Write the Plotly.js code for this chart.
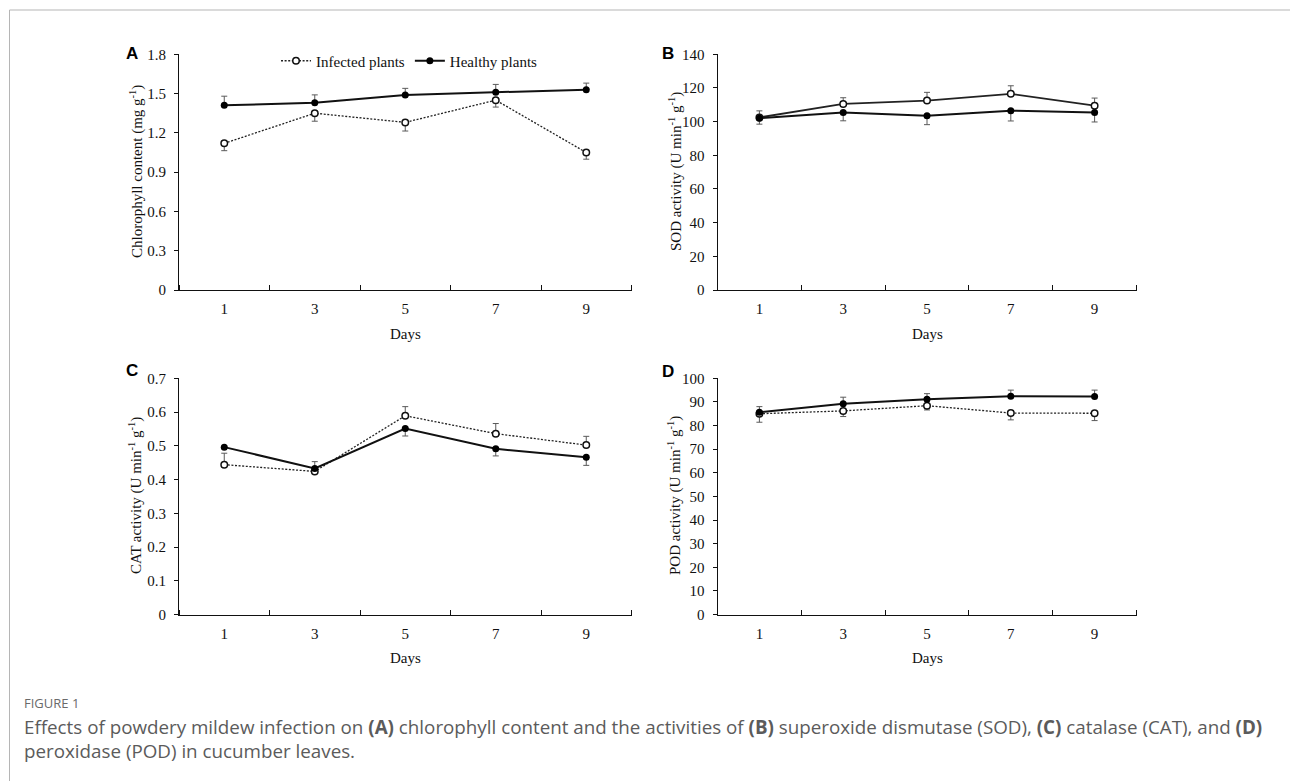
<!DOCTYPE html>
<html>
<head>
<meta charset="utf-8">
<script src="https://cdn.plot.ly/plotly-3.0.1.min.js"></script>
<style>
  html, body { margin: 0; padding: 0; background: #ffffff; }
  #chart { width: 1290px; height: 781px; }
</style>
</head>
<body>
<div id="chart"></div>
<script>
// ---------- data ----------
const days = [1, 3, 5, 7, 9];

// Panel A: chlorophyll content (mg g-1)
const chlInfected = [1.12, 1.35, 1.28, 1.45, 1.05];
const chlInfectedErrMinus = [0.056, 0.061, 0.066, 0.053, 0.051];
const chlHealthy = [1.41, 1.43, 1.49, 1.51, 1.53];
const chlHealthyErrPlus = [0.07, 0.06, 0.05, 0.06, 0.05];

// Panel B: SOD activity
const sodInfected = [102.5, 110.5, 112.5, 116.5, 109.5];
const sodInfectedErrPlus = [3.9, 3.7, 4.9, 4.8, 4.5];
const sodHealthy = [102, 105.5, 103.5, 106.5, 105.5];
const sodHealthyErrMinus = [3.5, 5.0, 5.3, 6.1, 5.7];

// Panel C: CAT activity
const catInfected = [0.444, 0.424, 0.589, 0.536, 0.502];
const catInfectedErrPlus = [0.034, 0, 0.027, 0.030, 0.026];
const catHealthy = [0.496, 0.433, 0.551, 0.491, 0.466];
const catHealthyErrPlus = [0, 0.020, 0, 0, 0];
const catHealthyErrMinus = [0, 0, 0.022, 0.021, 0.024];

// Panel D: POD activity
const podInfected = [85.0, 86.2, 88.4, 85.3, 85.2];
const podInfectedErrMinus = [3.6, 2.4, 1.8, 2.9, 3.1];
const podHealthy = [85.6, 89.2, 91.1, 92.4, 92.3];
const podHealthyErrPlus = [2.4, 2.8, 2.4, 2.6, 2.7];

// tick labels
const ticksA = [0, 0.3, 0.6, 0.9, 1.2, 1.5, 1.8];
const ticksB = [0, 20, 40, 60, 80, 100, 120, 140];
const ticksC = [0, 0.1, 0.2, 0.3, 0.4, 0.5, 0.6, 0.7];
const ticksD = [0, 10, 20, 30, 40, 50, 60, 70, 80, 90, 100];

const seriesNames = ['Infected plants', 'Healthy plants'];

// ---------- styling ----------
const W = 1290, H = 781;
const px = v => v / W;
const py = v => 1 - v / H;
const serif = 'Liberation Serif';
const ebColor = '#5a5a5a';
const dotDash = '2px,1.6px';

function err(plus, minus) {
  return {
    type: 'data', symmetric: false,
    array: plus || days.map(() => 0),
    arrayminus: minus || days.map(() => 0),
    color: ebColor, thickness: 1, width: 3
  };
}
function infectedTrace(y, e, xa, ya, dash, show) {
  return {
    x: days, y: y, xaxis: xa, yaxis: ya, type: 'scatter', mode: 'lines+markers',
    name: seriesNames[0], showlegend: show, legendrank: 1,
    line: { color: '#222', width: dash === 'solid' ? 1.8 : 1.3, dash: dash },
    marker: { symbol: 'circle', size: 6.5, color: '#ffffff', line: { color: '#111', width: 1.5 } },
    error_y: e
  };
}
function healthyTrace(y, e, xa, ya, show) {
  return {
    x: days, y: y, xaxis: xa, yaxis: ya, type: 'scatter', mode: 'lines+markers',
    name: seriesNames[1], showlegend: show, legendrank: 2,
    line: { color: '#111', width: 2 },
    marker: { symbol: 'circle', size: 7, color: '#000', line: { color: '#000', width: 0 } },
    error_y: e
  };
}

const data = [
  infectedTrace(chlInfected, err(null, chlInfectedErrMinus), 'x', 'y', dotDash, true),
  healthyTrace(chlHealthy, err(chlHealthyErrPlus, null), 'x', 'y', true),
  infectedTrace(sodInfected, err(sodInfectedErrPlus, null), 'x2', 'y2', 'solid', false),
  healthyTrace(sodHealthy, err(null, sodHealthyErrMinus), 'x2', 'y2', false),
  infectedTrace(catInfected, err(catInfectedErrPlus, null), 'x3', 'y3', dotDash, false),
  healthyTrace(catHealthy, err(catHealthyErrPlus, catHealthyErrMinus), 'x3', 'y3', false),
  infectedTrace(podInfected, err(null, podInfectedErrMinus), 'x4', 'y4', dotDash, false),
  healthyTrace(podHealthy, err(podHealthyErrPlus, null), 'x4', 'y4', false)
];

// panel geometry (pixels)
const colL = [179, 631.5], colR = [717.5, 1136.5];
const rowT = [54.3, 290], rowB = [378.3, 614.5];

function xAxis(dom, anchor) {
  return {
    domain: [px(dom[0]), px(dom[1])], anchor: anchor, range: [0, 10],
    tickmode: 'array', tickvals: days, ticktext: days.map(String),
    ticks: '', showgrid: false, zeroline: false,
    showline: true, linecolor: '#111', linewidth: 1,
    ticklabelstandoff: 5,
    tickfont: { family: serif, size: 15, color: '#111' },
    minor: { tickmode: 'linear', tick0: 0, dtick: 2, ticks: 'inside', ticklen: 5, tickwidth: 1, tickcolor: '#111', showgrid: false },
    fixedrange: true
  };
}
function yAxis(dom, anchor, ticks) {
  return {
    domain: [py(dom[1]), py(dom[0])], anchor: anchor,
    range: [ticks[0], ticks[ticks.length - 1]],
    tickmode: 'array', tickvals: ticks, ticktext: ticks.map(String),
    ticks: 'outside', ticklen: 4, tickwidth: 1, tickcolor: '#111',
    ticklabelstandoff: 5,
    showgrid: false, zeroline: false,
    showline: true, linecolor: '#111', linewidth: 1,
    tickfont: { family: serif, size: 15, color: '#111' },
    fixedrange: true
  };
}

const titleFont = { family: serif, size: 15, color: '#111' };
const letterFont = { family: 'Liberation Sans', size: 17, color: '#000' };
const capFont = { family: 'Open Sans', size: 18.8, color: '#5b5b5b' };

function ann(text, x, y, font, extra) {
  return Object.assign({ text: text, x: px(x), y: py(y), xref: 'paper', yref: 'paper',
    showarrow: false, font: font, xanchor: 'center', yanchor: 'middle' }, extra || {});
}

const unit = 'U min<sup>-1</sup> g<sup>-1</sup>';
const captionText = 'Effects of powdery mildew infection on <b>(A)</b> chlorophyll content and the activities of <b>(B)</b> superoxide dismutase (SOD), <b>(C)</b> catalase (CAT), and <b>(D)</b>' +
  '<br>peroxidase (POD) in cucumber leaves.';
const annotations = [
  ann('<b>A</b>', 132, 54, letterFont),
  ann('<b>B</b>', 667.5, 54, letterFont),
  ann('<b>C</b>', 132, 370, letterFont),
  ann('<b>D</b>', 667.5, 371, letterFont),
  ann('Chlorophyll content (mg g<sup>-1</sup>)', 136, 172, titleFont, { textangle: -90 }),
  ann('SOD activity (' + unit + ')', 675, 172, titleFont, { textangle: -90 }),
  ann('CAT activity (' + unit + ')', 136, 496, titleFont, { textangle: -90 }),
  ann('POD activity (' + unit + ')', 675, 496, titleFont, { textangle: -90 }),
  ann('Days', 405, 334, titleFont),
  ann('Days', 927, 334, titleFont),
  ann('Days', 405, 658, titleFont),
  ann('Days', 927, 658, titleFont),
  ann('FIGURE 1', 22, 703, { family: 'Open Sans', size: 13, color: '#6a6a6a' }, { xanchor: 'left' }),
  ann(captionText, 22, 739, capFont, { xanchor: 'left', align: 'left' })
];

const shapes = [
  { type: 'line', xref: 'paper', yref: 'paper', x0: px(9.5), x1: 1, y0: py(10), y1: py(10), line: { color: '#b5b5b5', width: 1 } },
  { type: 'line', xref: 'paper', yref: 'paper', x0: px(9.5), x1: px(9.5), y0: py(10), y1: 0, line: { color: '#b5b5b5', width: 1 } }
];

const layout = {
  width: W, height: H,
  margin: { l: 0, r: 0, t: 0, b: 0 },
  paper_bgcolor: '#ffffff', plot_bgcolor: '#ffffff',
  font: { family: serif, size: 15, color: '#111' },
  xaxis: xAxis(colL, 'y'), yaxis: yAxis(rowT, 'x', ticksA),
  xaxis2: xAxis(colR, 'y2'), yaxis2: yAxis(rowT, 'x2', ticksB),
  xaxis3: xAxis(colL, 'y3'), yaxis3: yAxis(rowB, 'x3', ticksC),
  xaxis4: xAxis(colR, 'y4'), yaxis4: yAxis(rowB, 'x4', ticksD),
  showlegend: true,
  legend: {
    orientation: 'h', x: px(276), y: py(61), xanchor: 'left', yanchor: 'middle',
    bgcolor: 'rgba(0,0,0,0)', borderwidth: 0,
    font: { family: serif, size: 15, color: '#111' },
    itemwidth: 30, tracegroupgap: 0, traceorder: 'normal'
  },
  annotations: annotations,
  shapes: shapes
};

Plotly.newPlot('chart', data, layout, { displayModeBar: false, staticPlot: true });
</script>
</body>
</html>
